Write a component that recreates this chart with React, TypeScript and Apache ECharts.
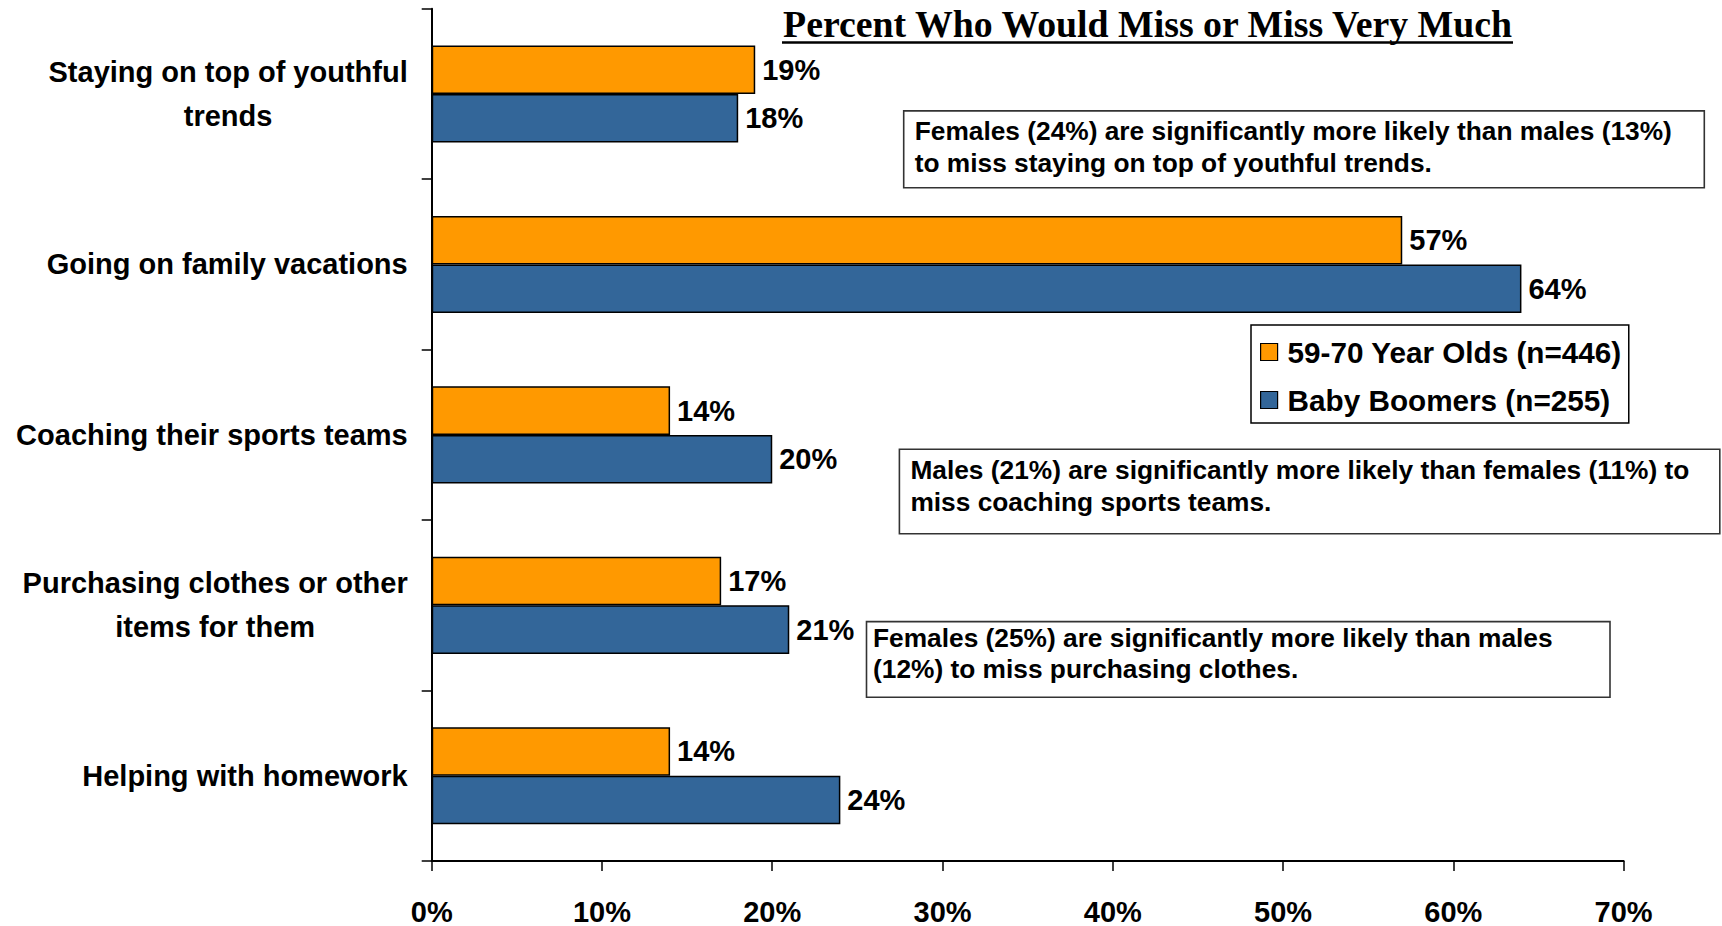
import React, { useEffect, useRef } from "react";
import * as echarts from "echarts";

const categories = [
  "Staying on top of youthful\ntrends",
  "Going on family vacations",
  "Coaching their sports teams",
  "Purchasing clothes or other\nitems for them",
  "Helping with homework",
];
const seriesNames = ["59-70 Year Olds (n=446)", "Baby Boomers (n=255)"];
const olderValues = [19, 57, 14, 17, 14];
const boomerValues = [18, 64, 20, 21, 24];
const xTicks = { min: 0, max: 70, interval: 10 };
const titleText = "Percent Who Would Miss or Miss Very Much";
const notes = [
  "Females (24%) are significantly more likely than males (13%)\nto miss staying on top of youthful trends.",
  "Males (21%) are significantly more likely than females (11%) to\nmiss coaching sports teams.",
  "Females (25%) are significantly more likely than males\n(12%) to miss purchasing clothes.",
];

const SANS = "'Liberation Sans', Arial, sans-serif";

export default function App() {
  const ref = useRef<HTMLDivElement>(null);
  useEffect(() => {
    if (!ref.current) return;
    const chart = echarts.init(ref.current, undefined, { renderer: "svg" });
    const noteBoxes = [
      { x: 903.7, y: 110.9, w: 800.6, h: 76.9, tx: 914.7, ty: 130.7, lh: 31.8 },
      { x: 899.4, y: 449.2, w: 820.4, h: 84.5, tx: 910.4, ty: 470, lh: 32 },
      { x: 866.5, y: 621.6, w: 743.5, h: 75.7, tx: 873, ty: 638, lh: 30.8 },
    ];
    const graphics: any[] = [];
    noteBoxes.forEach((b, i) => {
      graphics.push({
        type: "rect",
        shape: { x: b.x, y: b.y, width: b.w, height: b.h },
        style: { fill: "#fff", stroke: "#333", lineWidth: 1.6 },
        z: 10,
      });
      notes[i].split("\n").forEach((line, j) => {
        graphics.push({
          type: "text",
          x: b.tx,
          y: b.ty + j * b.lh,
          style: {
            text: line,
            fill: "#000",
            fontSize: 26.3,
            fontWeight: "bold",
            fontFamily: SANS,
            verticalAlign: "middle",
            align: "left",
          },
          z: 11,
        });
      });
    });
    graphics.push({
      type: "text",
      x: 1147.6,
      y: 24,
      style: {
        text: titleText,
        fill: "#000",
        fontSize: 37.8,
        fontWeight: "bold",
        fontFamily: "'Liberation Serif', 'Times New Roman', serif",
        align: "center",
        verticalAlign: "middle",
      },
      z: 11,
    });
    graphics.push({
      type: "line",
      shape: { x1: 782, y1: 42.5, x2: 1513, y2: 42.5 },
      style: { stroke: "#000", lineWidth: 2.5 },
      z: 11,
    });

    const labelStyle = {
      show: true,
      position: "right",
      distance: 7,
      formatter: "{c}%",
      fontSize: 29,
      fontWeight: "bold",
      fontFamily: SANS,
      color: "#000",
    };

    chart.setOption({
      animation: false,
      backgroundColor: "#fff",
      grid: {
        left: 431.7,
        right: 98.4,
        top: 8.8,
        bottom: 65,
        containLabel: false,
        outerBoundsMode: "none",
      },
      legend: {
        data: seriesNames,
        orient: "vertical",
        left: 1251,
        top: 325,
        itemWidth: 17,
        itemHeight: 17,
        itemGap: 18,
        padding: [12, 7, 8, 9],
        borderColor: "#000",
        borderWidth: 1.5,
        backgroundColor: "#fff",
        icon: "rect",
        itemStyle: { borderColor: "#000", borderWidth: 1.2 },
        textStyle: {
          fontSize: 29.7,
          fontWeight: "bold",
          fontFamily: SANS,
          color: "#000",
          padding: [0, 0, 0, 5],
        },
        z: 12,
      },
      xAxis: {
        type: "value",
        min: xTicks.min,
        max: xTicks.max,
        interval: xTicks.interval,
        splitLine: { show: false },
        axisLine: { show: true, lineStyle: { color: "#000", width: 2 } },
        axisTick: { show: true, length: 10, lineStyle: { color: "#000", width: 1.5 } },
        axisLabel: {
          formatter: "{value}%",
          margin: 36,
          fontSize: 29,
          fontWeight: "bold",
          fontFamily: SANS,
          color: "#000",
        },
      },
      yAxis: {
        type: "category",
        data: categories,
        inverse: true,
        axisLine: { show: true, lineStyle: { color: "#000", width: 2 } },
        axisTick: { show: true, length: 10, lineStyle: { color: "#000", width: 1.5 } },
        axisLabel: {
          margin: 24,
          color: "#000",
          fontSize: 29,
          fontWeight: "bold",
          fontFamily: SANS,
          formatter: (v: string) =>
            v
              .split("\n")
              .map((l) => `{c|${l}}`)
              .join("\n"),
          rich: {
            c: {
              align: "center",
              fontSize: 29,
              fontWeight: "bold",
              fontFamily: SANS,
              color: "#000",
              lineHeight: 44,
            },
          },
        },
      },
      series: [
        {
          name: seriesNames[0],
          type: "bar",
          data: olderValues,
          barGap: "0%",
          barCategoryGap: "43%",
          itemStyle: { color: "#FF9900", borderColor: "#000", borderWidth: 1.5 },
          label: labelStyle,
        },
        {
          name: seriesNames[1],
          type: "bar",
          data: boomerValues,
          barGap: "0%",
          barCategoryGap: "43%",
          itemStyle: { color: "#336699", borderColor: "#000", borderWidth: 1.5 },
          label: labelStyle,
        },
      ],
      graphic: graphics,
    });
    return () => chart.dispose();
  }, []);
  return (
    <div
      ref={ref}
      style={{ position: "fixed", left: 0, top: 0, width: 1722, height: 926, background: "#fff" }}
    />
  );
}
